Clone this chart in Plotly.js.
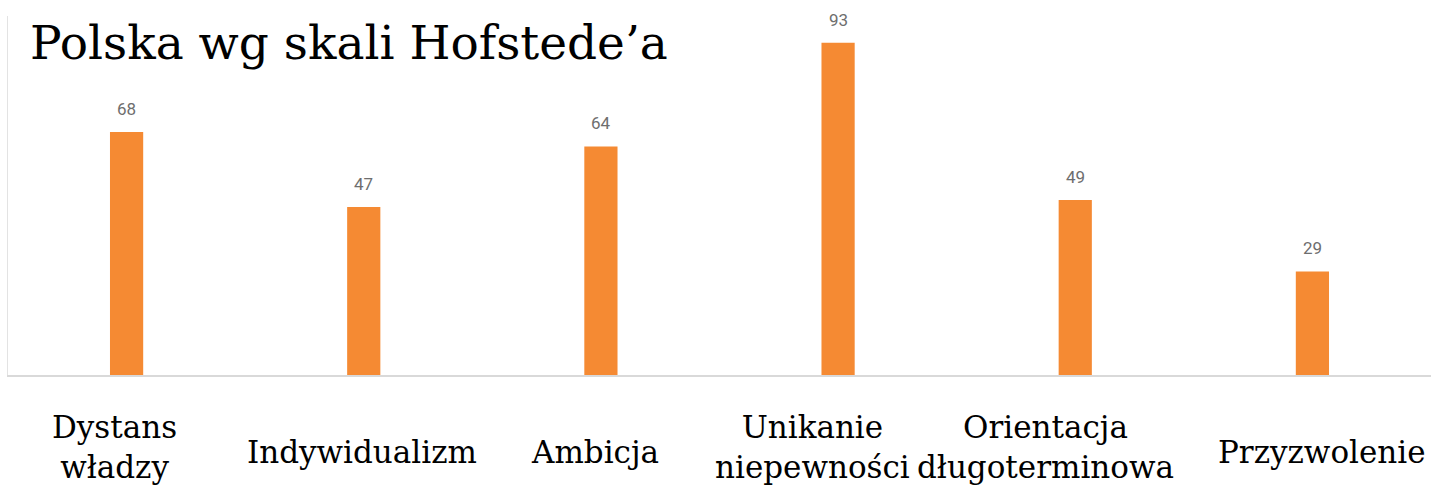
<!DOCTYPE html>
<html>
<head>
<meta charset="utf-8">
<script src="https://cdn.plot.ly/plotly-3.0.1.min.js"></script>
<style>html,body{margin:0;padding:0;background:#fff;}#chart{width:1433px;height:491px;}</style>
</head>
<body>
<div id="chart"></div>
<script>
const categories = ["Dystans<br>władzy", "Indywidualizm", "Ambicja", "Unikanie<br>niepewności", "Orientacja<br>długoterminowa", "Przyzwolenie"];
const values = [68, 47, 64, 93, 49, 29];
const chartTitle = "Polska wg skali Hofstede’a";

const serif = "DejaVu Serif, Liberation Serif, serif";
// horizontal nudges of the category labels, as in the reference
const labelShift = [-12, -2, -6, -26, -30, 10];

const trace = {
  type: 'bar',
  x: categories,
  y: values,
  marker: {color: '#F58A33'},
  hoverinfo: 'none'
};

const valueLabels = categories.map((c, i) => ({
  x: c, y: values[i], xref: 'x', yref: 'y',
  text: String(values[i]), showarrow: false,
  yanchor: 'bottom', yshift: 11,
  font: {family: 'Roboto, sans-serif', size: 17, color: '#6e6e6e'}
}));

const catLabels = categories.map((c, i) => ({
  x: c, y: -0.215, xref: 'x', yref: 'paper',
  text: c, showarrow: false, yanchor: 'middle', align: 'center',
  xshift: labelShift[i],
  yshift: c.indexOf('<br>') >= 0 ? 5 : 0,
  font: {family: serif, size: 31, color: '#000000'}
}));

const layout = {
  width: 1433, height: 491,
  margin: {l: 8, r: 2, t: 16, b: 116},
  paper_bgcolor: '#ffffff', plot_bgcolor: '#ffffff',
  showlegend: false,
  bargap: 0.86,
  title: {
    text: chartTitle,
    font: {family: serif, size: 47, color: '#000000'},
    xref: 'container', yref: 'container',
    x: 30/1433, xanchor: 'left',
    y: 1 - 43/491, yanchor: 'middle'
  },
  xaxis: {
    type: 'category',
    showticklabels: false, ticks: '',
    showgrid: false, zeroline: false,
    showline: true, linecolor: '#d9d9d9', linewidth: 1.5
  },
  yaxis: {
    range: [0, 100.5],
    showticklabels: false, ticks: '',
    showgrid: false, zeroline: false,
    showline: true, linecolor: '#e3e3e3', linewidth: 1.5
  },
  annotations: valueLabels.concat(catLabels)
};

Plotly.newPlot('chart', [trace], layout, {displayModeBar: false, staticPlot: true});
</script>
</body>
</html>
